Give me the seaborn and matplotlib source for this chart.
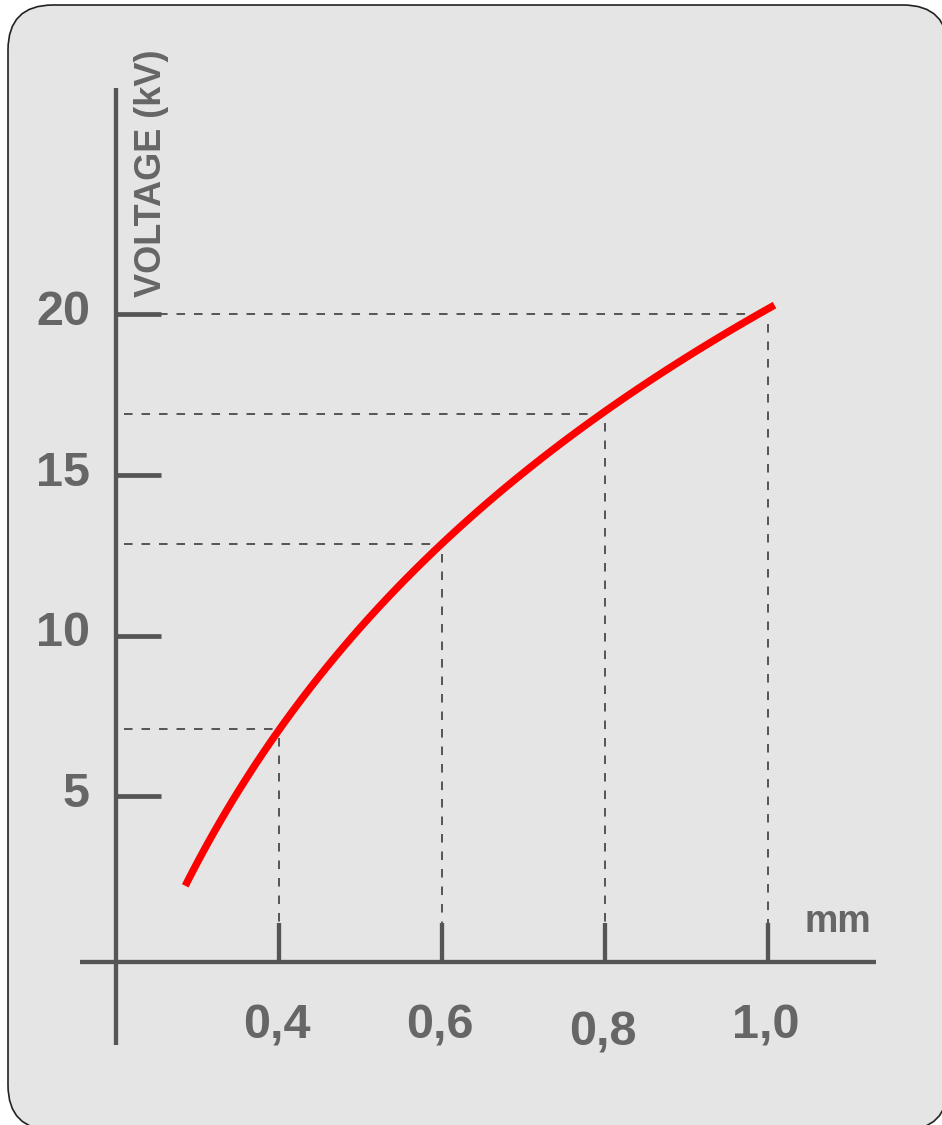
import numpy as np
import pandas as pd
import seaborn as sns
import matplotlib.pyplot as plt
from matplotlib.patches import FancyBboxPatch
from matplotlib.transforms import IdentityTransform

# Curve: gap (mm) vs breakdown voltage (kV)
gap_mm = [0.285, 0.30, 0.35, 0.40, 0.45, 0.50, 0.55, 0.60, 0.65,
          0.70, 0.75, 0.80, 0.85, 0.90, 0.95, 1.00, 1.008]
voltage_kv = [2.15, 2.85, 5.05, 7.1, 8.85, 10.4, 11.7, 12.85, 14.05,
              15.1, 16.1, 17.0, 17.85, 18.65, 19.38, 20.05, 20.2]

# Dashed guide lines
guide_x = [0.4, 0.6, 0.8, 1.0]
guide_y = [7.1, 12.85, 16.9, 20.0]

# Ticks
x_ticks = [0.4, 0.6, 0.8, 1.0]
x_labels = ["0,4", "0,6", "0,8", "1,0"]
y_ticks = [5, 10, 15, 20]
y_labels = ["5", "10", "15", "20"]

df = pd.DataFrame({"gap": gap_mm, "kv": voltage_kv})

sns.set_style("white")
plt.rcParams["font.family"] = ["Liberation Sans", "DejaVu Sans"]

axis_col = "#555555"
text_col = "#666666"

fig = plt.figure(figsize=(9.42, 11.25), dpi=100)
fig.patch.set_facecolor("white")

# rounded grey panel behind everything
panel = FancyBboxPatch((8, -5), 940, 1125,
                       boxstyle="round,pad=0,rounding_size=45",
                       transform=IdentityTransform(),
                       facecolor="#e5e5e5", edgecolor="#222222",
                       linewidth=1.2, zorder=0)
fig.add_artist(panel)

ax = fig.add_axes([0, 0, 1, 1])
ax.patch.set_alpha(0)

# axes drawn by hand
ax.plot([0.2, 0.2], [-2.74, 27.03], color=axis_col, lw=3.1,
        solid_capstyle="butt")
ax.plot([0.156, 1.1325], [-0.15, -0.15], color=axis_col, lw=3.1,
        solid_capstyle="butt")
for v in y_ticks:
    ax.plot([0.2, 0.255], [v, v], color=axis_col, lw=3.4,
            solid_capstyle="butt")
for v in x_ticks:
    ax.plot([v, v], [-0.15, 1.06], color=axis_col, lw=3.1,
            solid_capstyle="butt")

# dashed guides
for gx, gy in zip(guide_x, guide_y):
    ax.plot([0.21, gx], [gy, gy], color=axis_col, lw=1.4,
            dashes=(4.4, 4.6))
    ax.plot([gx, gx], [gy - 0.3, 1.06], color=axis_col, lw=1.4,
            dashes=(4.4, 4.6))

# smooth curve: log fit through the read points
sns.regplot(data=df, x="gap", y="kv", ax=ax, logx=True, ci=None,
            scatter=False, truncate=True,
            line_kws={"color": "#ff0000", "lw": 5.3,
                      "solid_capstyle": "butt", "zorder": 5})
ax.set_xlim(0.0577, 1.2135)
ax.set_ylim(-5.225, 29.77)
ax.axis("off")

for v, lab in zip(y_ticks, y_labels):
    ax.text(0.168, v - 0.34, lab, ha="right", va="baseline",
            fontsize=35, fontweight="bold", color=text_col)
for v, lab in zip(x_ticks, x_labels):
    yb = -2.74 if lab == "0,8" else -2.52
    ax.text(v - 0.003, yb, lab, ha="center", va="baseline",
            fontsize=35, fontweight="bold", color=text_col)

ax.text(0.244, 20.53, "VOLTAGE (kV)", rotation=90, ha="center",
        va="bottom", fontsize=26, fontweight="bold", color=text_col)
ax.text(1.045, 0.78, "mm", ha="left", va="baseline", fontsize=27,
        fontweight="bold", color=text_col)

plt.savefig("out.png", dpi=100, facecolor=fig.get_facecolor())
